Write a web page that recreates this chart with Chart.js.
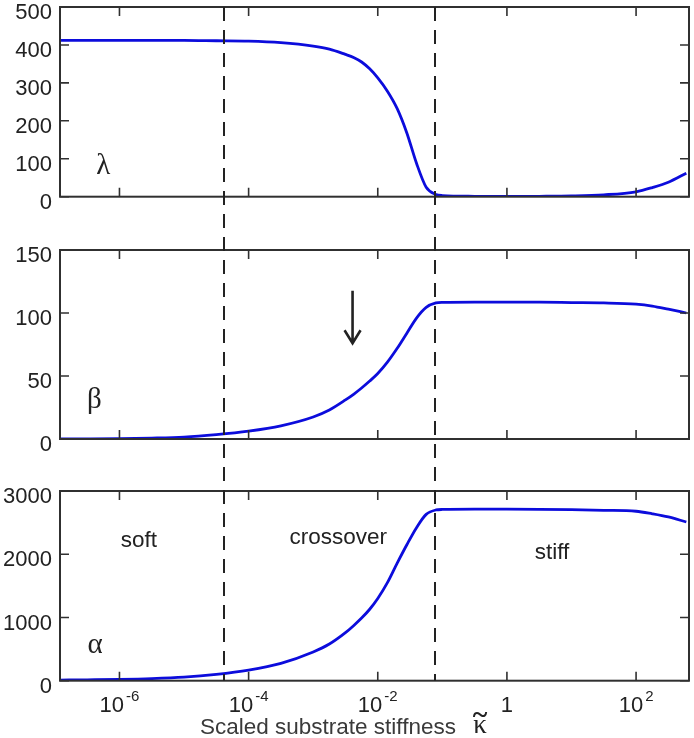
<!DOCTYPE html>
<html><head><meta charset="utf-8">
<script src="https://cdn.jsdelivr.net/npm/chart.js@4/dist/chart.umd.min.js"></script>
<style>
html,body{margin:0;padding:0;background:#fff;width:694px;height:738px;overflow:hidden}
canvas{position:absolute;left:0;top:0}
</style></head><body>
<canvas id="c1" width="694" height="738"></canvas>
<canvas id="c2" width="694" height="738"></canvas>
<canvas id="c3" width="694" height="738"></canvas>
<script>
// ---- data ----
const kappa  = [1.2e-7, 3.16e-7, 1e-6, 3.16e-6, 1e-5, 3.16e-5, 1e-4, 3.16e-4, 1e-3, 1.78e-3, 3.16e-3, 4.22e-3, 5.62e-3, 7.5e-3, 1e-2, 1.41e-2, 2e-2, 2.82e-2, 3.98e-2, 5.62e-2, 7.94e-2, 0.1, 0.316, 1, 3.16, 10, 31.6, 100, 178, 316, 600];
const lambda = [412, 412, 412, 412, 412, 411, 410, 406, 397, 389, 375, 367, 355, 337, 313, 278, 232, 168, 88, 25, 6, 3, 1, 0.5, 1, 2, 5, 13, 24, 38, 62];
const beta   = [0, 0.1, 0.3, 0.7, 1.5, 3.5, 6.3, 10.5, 17.5, 23, 31, 35.5, 40.5, 46, 52, 61, 72, 84, 96, 104.5, 108, 108.5, 108.7, 108.7, 108.6, 108.3, 108, 107, 105.5, 103, 100];
const alpha  = [10, 14, 20, 32, 55, 100, 168, 275, 455, 580, 760, 870, 990, 1130, 1300, 1550, 1860, 2150, 2420, 2630, 2700, 2708, 2712, 2712, 2710, 2705, 2695, 2680, 2640, 2590, 2510];
const xTicks    = [1e-6, 1e-4, 1e-2, 1, 1e2];
const xTickBase = ['10', '10', '10', '1', '10'];
const xTickExp  = ['-6', '-4', '-2', '', '2'];
const dividers  = [4.1e-5, 7.8e-2];
const regionLabels = ['soft', 'crossover', 'stiff'];
const seriesSymbols = ['λ', 'β', 'α'];
const xTitle = 'Scaled substrate stiffness';

// ---- styling / placement ----
const X_MIN = 1.2e-7, X_MAX = 660;
const AXIS_COLOR = '#303030';
const TEXT_COLOR = '#222';
const LINE_COLOR = '#0c0cdc';
const SANS = '"Liberation Sans", Arial, sans-serif';
const SERIF = '"Liberation Serif", "Times New Roman", serif';
const regionPos = [[2e-6, 2209], [2.44e-3, 2257], [5.0, 2020]];
const symbolPos = [[5.6e-7, 81], [4.1e-7, 31], [4.2e-7, 565]];
const arrowPos = {x: 4.07e-3, yFrom: 117.7, yTo: 76};

const charts = [];

function drawFrame(chart) {
  const {ctx, chartArea: a, scales} = chart;
  ctx.save();
  ctx.strokeStyle = AXIS_COLOR;
  ctx.lineWidth = 2;
  ctx.strokeRect(a.left, a.top, a.right - a.left, a.bottom - a.top);
  ctx.lineWidth = 1.6;
  ctx.beginPath();
  scales.y.ticks.forEach(t => {
    const y = scales.y.getPixelForValue(t.value);
    ctx.moveTo(a.left, y); ctx.lineTo(a.left + 9, y);
    ctx.moveTo(a.right, y); ctx.lineTo(a.right - 9, y);
  });
  xTicks.forEach(v => {
    const x = scales.x.getPixelForValue(v);
    ctx.moveTo(x, a.top); ctx.lineTo(x, a.top + 9);
    ctx.moveTo(x, a.bottom); ctx.lineTo(x, a.bottom - 9);
  });
  ctx.stroke();
  ctx.restore();
}

function drawSymbol(chart, i) {
  const {ctx, scales} = chart;
  ctx.save();
  ctx.fillStyle = TEXT_COLOR;
  ctx.font = '29px ' + SERIF;
  ctx.textAlign = 'center';
  ctx.textBaseline = 'middle';
  ctx.fillText(seriesSymbols[i], scales.x.getPixelForValue(symbolPos[i][0]), scales.y.getPixelForValue(symbolPos[i][1]));
  ctx.restore();
}

function drawArrow(chart) {
  const {ctx, scales} = chart;
  const x = scales.x.getPixelForValue(arrowPos.x);
  const y0 = scales.y.getPixelForValue(arrowPos.yFrom);
  const y1 = scales.y.getPixelForValue(arrowPos.yTo);
  ctx.save();
  ctx.strokeStyle = TEXT_COLOR;
  ctx.lineWidth = 2.6;
  ctx.beginPath();
  ctx.moveTo(x, y0); ctx.lineTo(x, y1);
  ctx.moveTo(x - 8, y1 - 13); ctx.lineTo(x, y1); ctx.lineTo(x + 8, y1 - 13);
  ctx.stroke();
  ctx.restore();
}

function drawBottom(chart) {
  const {ctx, scales, chartArea: a} = chart;
  ctx.save();
  // region labels
  ctx.fillStyle = TEXT_COLOR;
  ctx.font = '22.5px ' + SANS;
  ctx.textAlign = 'center';
  ctx.textBaseline = 'middle';
  regionLabels.forEach((t, i) => {
    ctx.fillText(t, scales.x.getPixelForValue(regionPos[i][0]), scales.y.getPixelForValue(regionPos[i][1]));
  });
  // x tick labels with superscript exponents
  ctx.textBaseline = 'alphabetic';
  ctx.textAlign = 'left';
  xTicks.forEach((v, i) => {
    const px = scales.x.getPixelForValue(v);
    ctx.font = '22px ' + SANS;
    const wb = ctx.measureText(xTickBase[i]).width;
    ctx.font = '15px ' + SANS;
    const we = xTickExp[i] ? ctx.measureText(xTickExp[i]).width + 2 : 0;
    const x0 = px - (wb + we) / 2;
    ctx.font = '22px ' + SANS;
    ctx.fillText(xTickBase[i], x0, a.bottom + 31);
    if (xTickExp[i]) {
      ctx.font = '15px ' + SANS;
      ctx.fillText(xTickExp[i], x0 + wb + 2, a.bottom + 20);
    }
  });
  // axis title
  ctx.fillStyle = '#3a3a3a';
  ctx.font = '22.5px ' + SANS;
  ctx.textAlign = 'center';
  ctx.fillText(xTitle, 328, 734);
  ctx.font = '27px ' + SERIF;
  ctx.fillStyle = TEXT_COLOR;
  ctx.fillText('κ', 480, 733);
  ctx.font = 'bold 28px ' + SERIF;
  ctx.fillText('~', 480, 723);
  // dashed dividers spanning all panels
  const top = charts[0].chartArea.top;
  ctx.strokeStyle = TEXT_COLOR;
  ctx.lineWidth = 2;
  ctx.setLineDash([14, 9]);
  ctx.beginPath();
  dividers.forEach(d => {
    const x = Math.round(scales.x.getPixelForValue(d));
    ctx.moveTo(x, top); ctx.lineTo(x, a.bottom);
  });
  ctx.stroke();
  ctx.restore();
}

function makeChart(id, values, yMax, step, padTop, padBottom, idx, extra) {
  const chart = new Chart(document.getElementById(id), {
    type: 'line',
    data: {
      datasets: [{
        data: kappa.map((k, i) => ({x: k, y: values[i]})),
        borderColor: LINE_COLOR,
        borderWidth: 2.8,
        pointRadius: 0,
        cubicInterpolationMode: 'monotone',
        fill: false
      }]
    },
    options: {
      responsive: false,
      animation: false,
      devicePixelRatio: 1,
      layout: {padding: {left: 0, right: 5, top: padTop, bottom: padBottom}, autoPadding: false},
      plugins: {legend: {display: false}, tooltip: {enabled: false}},
      scales: {
        x: {type: 'logarithmic', min: X_MIN, max: X_MAX, display: false},
        y: {
          min: 0, max: yMax,
          ticks: {stepSize: step, padding: 8, labelOffset: 6, color: TEXT_COLOR,
                  font: {family: SANS, size: 22}, callback: v => String(v)},
          grid: {display: false, drawTicks: false},
          border: {display: false},
          afterFit(s) { s.width = 60; s.paddingTop = 0; s.paddingBottom = 0; }
        }
      }
    },
    plugins: [{
      id: 'frame' + idx,
      afterDatasetsDraw(c) { drawFrame(c); drawSymbol(c, idx); if (extra) extra(c); }
    }]
  });
  charts.push(chart);
  return chart;
}

makeChart('c1', lambda, 500, 100, 7, 541.3, 0, null);
makeChart('c2', beta, 150, 50, 250, 299, 1, drawArrow);
makeChart('c3', alpha, 3000, 1000, 491, 57.3, 2, drawBottom);
</script>
</body></html>
